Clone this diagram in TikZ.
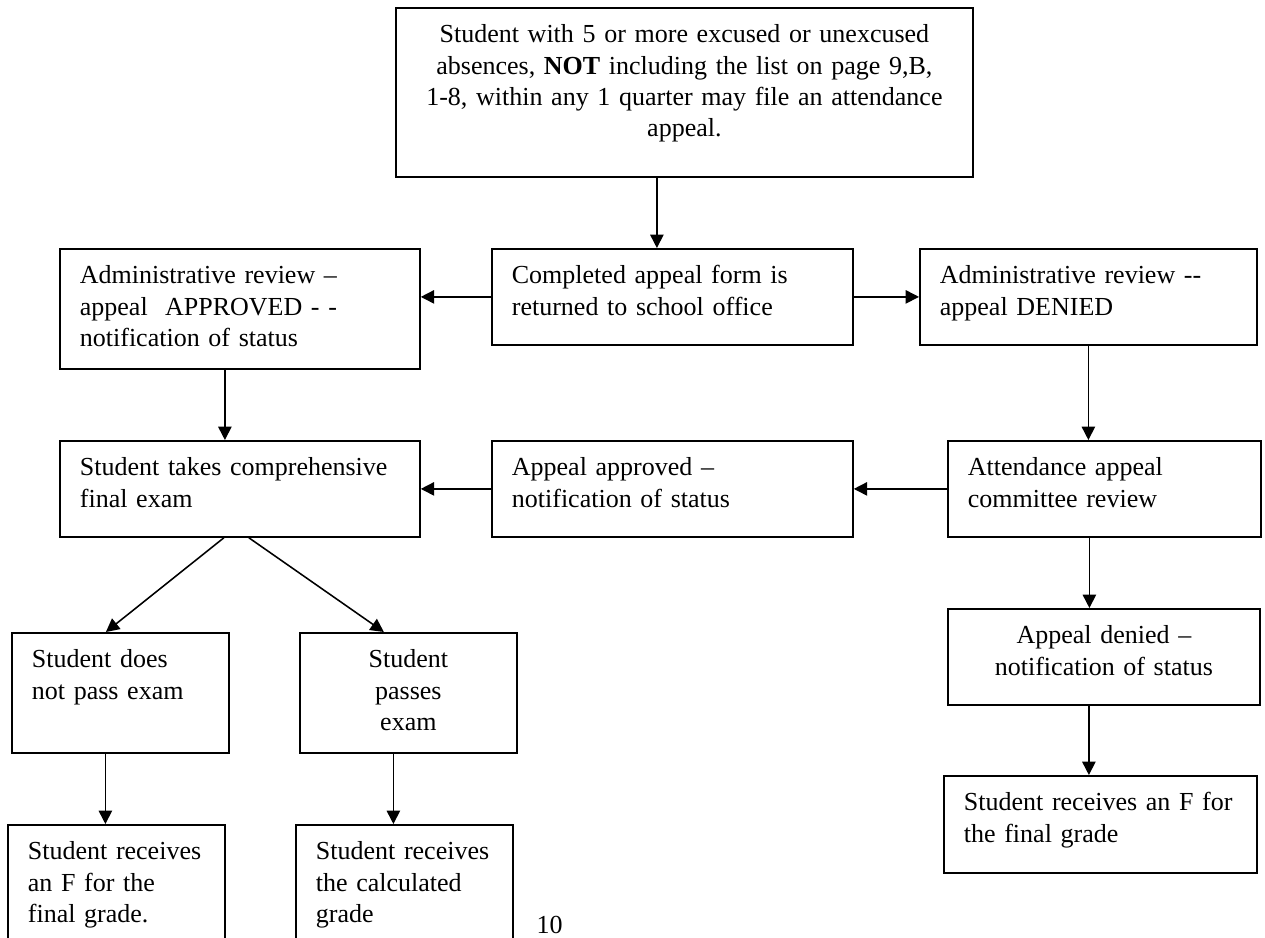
\documentclass[tikz,border=0pt]{standalone}
\usepackage{fontspec}
\setmainfont{Liberation Serif}
\usetikzlibrary{arrows.meta,calc,positioning}
\hyphenpenalty=10000
\exhyphenpenalty=10000

\tikzset{
  box/.style={draw, line width=0.8pt, anchor=north west, align=left,
    inner xsep=9pt, inner ysep=5.85pt, text height=9.9pt,
    font=\fontsize{11.7}{14.1}\selectfont},
  arr/.style={line width=0.7pt, -{Triangle[length=6pt,width=6pt]}}
}

\begin{document}
\begin{tikzpicture}[x=0.45pt,y=-0.45pt]
    \useasboundingbox (0,0) rectangle (1265,938);
    \clip (0,0) rectangle (1265,938);
    % boxes
    \node[box, align=center, text width=241.65pt, text depth=54.45pt] (file) at (395,7)
        {Student with 5 or more excused or unexcused\\ absences, \textbf{NOT} including the list on page 9,B,\\ 1-8, within any 1 quarter may file an attendance\\ appeal.};
    \node[box, text width=144.45pt, text depth=21.6pt] (form) at (491,248)
        {Completed appeal form is\\ returned to school office};
    \node[box, text width=144pt, text depth=32.4pt] (okAdmin) at (59,248)
        {Administrative review --\\ appeal\ \ APPROVED - -\\ notification of status};
    \node[box, text width=133.65pt, text depth=21.6pt] (noAdmin) at (919,248)
        {Administrative review {-}{-}\\ appeal DENIED};
    \node[box, text width=144pt, text depth=21.6pt] (exam) at (59,440)
        {Student~takes~comprehensive\\ final exam};
    \node[box, text width=144.45pt, text depth=21.6pt] (okCommittee) at (491,440)
        {Appeal approved --\\ notification of status};
    \node[box, text width=122.85pt, text depth=21.6pt] (committee) at (947,440)
        {Attendance appeal\\ committee review};
    \node[box, align=center, text width=122.4pt, text depth=21.6pt] (noCommittee) at (947,608)
        {Appeal denied --\\ notification of status};
    \node[box, text width=122.85pt, text depth=22.05pt] (failFinal) at (943,775)
        {Student~receives~an~F~for\\ the final grade};
    \node[box, text width=79.65pt, text depth=32.4pt] (fail) at (11,632)
        {Student does\\ not pass exam};
    \node[box, align=center, text width=79.65pt, text depth=32.4pt] (pass) at (299,632)
        {Student\\ passes\\ exam};
    \node[box, text width=79.65pt, text depth=41.4pt] (failGrade) at (7,824)
        {Student~receives\\ an F for the\\ final grade.};
    \node[box, text width=79.65pt, text depth=41.4pt] (passGrade) at (295,824)
        {Student~receives\\ the calculated\\ grade};
    \node[font=\fontsize{11.7}{14.1}\selectfont, anchor=base] (page) at (549.5,933) {10};
    % arrows
    \draw[arr] ($(file.south)+(-27.5,0)$) -- ($(file.south |- form.north)+(-27.5,0)$);
    \draw[arr] (form.west) -- (form.west -| okAdmin.east);
    \draw[arr] (form.east) -- (form.east -| noAdmin.west);
    \draw[arr] ($(okAdmin.south)+(-15,0)$) -- ($(okAdmin.south |- exam.north)+(-15,0)$);
    \draw[arr] (noAdmin.south) -- (noAdmin.south |- committee.north);
    \draw[arr] (committee.west) -- (committee.west -| okCommittee.east);
    \draw[arr] (okCommittee.west) -- (okCommittee.west -| exam.east);
    \draw[arr] ($(committee.south)+(-15,0)$) -- ($(committee.south |- noCommittee.north)+(-15,0)$);
    \draw[arr] ($(noCommittee.south)+(-15,0)$) -- ($(noCommittee.south |- failFinal.north)+(-15,0)$);
    \draw[arr] ($(exam.south)+(-16,0)$) -- ($(fail.north)+(-14.5,0)$);
    \draw[arr] ($(exam.south)+(9,0)$) -- ($(pass.north)+(-24.5,0)$);
    \draw[arr] ($(fail.south)+(-15,0)$) -- ($(fail.south |- failGrade.north)+(-15,0)$);
    \draw[arr] ($(pass.south)+(-15,0)$) -- ($(pass.south |- passGrade.north)+(-15,0)$);
\end{tikzpicture}
\end{document}
